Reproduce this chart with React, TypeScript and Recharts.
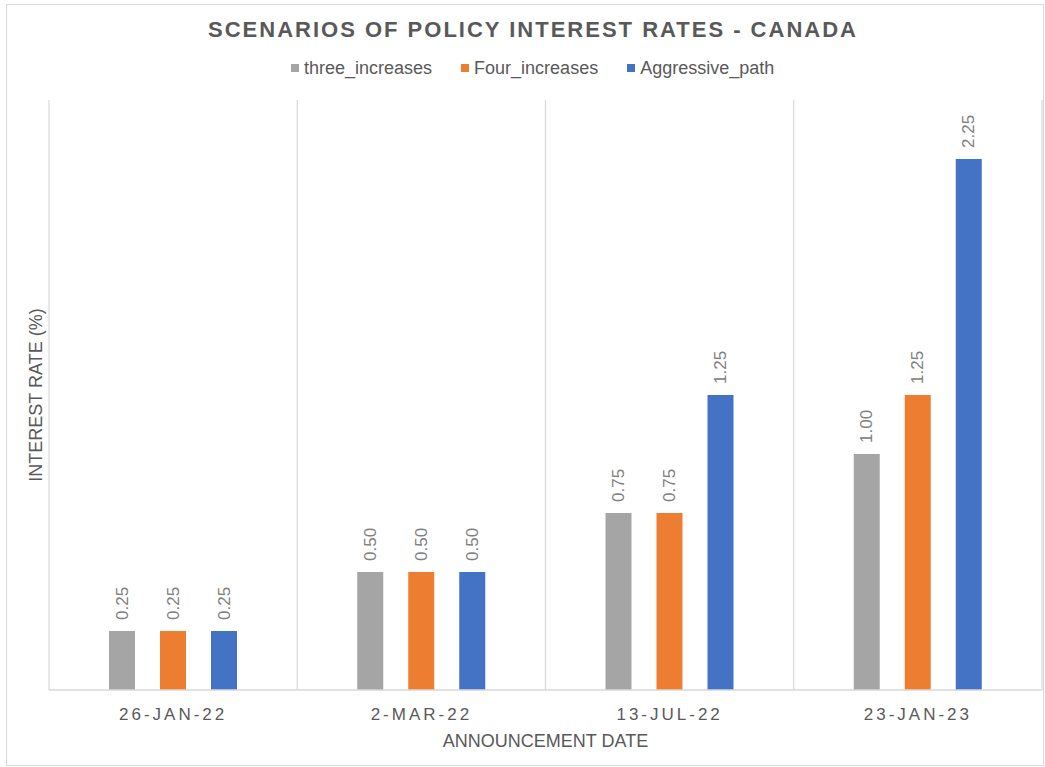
import React from 'react';
import { BarChart, Bar, XAxis, YAxis, CartesianGrid, LabelList } from 'recharts';

const categories = ['26-JAN-22', '2-MAR-22', '13-JUL-22', '23-JAN-23'];
const threeIncreases = [0.25, 0.5, 0.75, 1.0];
const fourIncreases = [0.25, 0.5, 0.75, 1.25];
const aggressivePath = [0.25, 0.5, 1.25, 2.25];

const seriesNames = ['three_increases', 'Four_increases', 'Aggressive_path'];
const seriesColors = ['#a5a5a5', '#ed7d31', '#4472c4'];
const seriesKeys = ['three', 'four', 'aggr'];

const data = categories.map((c, i) => ({
  date: c,
  three: threeIncreases[i],
  four: fourIncreases[i],
  aggr: aggressivePath[i],
}));

const FONT = '"Liberation Sans", Arial, sans-serif';
const TEXT = '#595959';

const renderValueLabel = (props: any) => {
  const { x, y, width, value } = props;
  const cx = Number(x) + Number(width) / 2;
  const ty = Number(y) - 11;
  return (
    <text
      x={cx}
      y={ty}
      transform={`rotate(-90, ${cx}, ${ty})`}
      textAnchor="start"
      dominantBaseline="central"
      fontSize={17}
      fill="#808080"
      fontFamily={FONT}
    >
      {Number(value).toFixed(2)}
    </text>
  );
};

export default function App() {
  return (
    <div
      style={{
        position: 'absolute',
        left: 0,
        top: 0,
        width: 1045,
        height: 767,
        background: '#ffffff',
        fontFamily: FONT,
        overflow: 'hidden',
      }}
    >
      <div
        style={{
          position: 'absolute',
          left: 6,
          top: 4,
          width: 1038,
          height: 762,
          border: '1px solid #d9d9d9',
          boxSizing: 'border-box',
        }}
      />
      <div
        style={{
          position: 'absolute',
          left: 0,
          top: 18,
          width: 1066,
          textAlign: 'center',
          fontSize: 22,
          lineHeight: '24px',
          fontWeight: 'bold',
          letterSpacing: 2,
          color: TEXT,
        }}
      >
        SCENARIOS OF POLICY INTEREST RATES - CANADA
      </div>
      <div
        style={{
          position: 'absolute',
          left: 291,
          top: 58,
          height: 20,
          display: 'flex',
          alignItems: 'center',
          fontSize: 18,
          color: TEXT,
          whiteSpace: 'nowrap',
        }}
      >
        {seriesNames.map((n, i) => (
          <div key={n} style={{ display: 'flex', alignItems: 'center', marginRight: 29 }}>
            <span
              style={{
                display: 'inline-block',
                width: 8,
                height: 8,
                background: seriesColors[i],
                marginRight: 5,
              }}
            />
            <span>{n}</span>
          </div>
        ))}
      </div>
      <div style={{ position: 'absolute', left: 0, top: 0 }}>
        <BarChart
          width={1045}
          height={767}
          data={data}
          margin={{ top: 100, right: 3, bottom: 47, left: 0 }}
          barGap={25}
          barSize={26}
        >
          <CartesianGrid
            horizontal={false}
            stroke="#d9d9d9"
            strokeWidth={1.2}
            verticalCoordinatesGenerator={(p: any) => {
              const o = p.offset;
              return [0, 1, 2, 3, 4].map((i) => o.left + (i * o.width) / 4);
            }}
          />
          <XAxis
            dataKey="date"
            axisLine={{ stroke: '#d9d9d9', strokeWidth: 1.5 }}
            tickLine={false}
            tickSize={0}
            tickMargin={18}
            height={30}
            tick={{ fill: TEXT, fontSize: 17, letterSpacing: 3, fontFamily: FONT }}
            interval={0}
            label={{
              content: (p: any) => {
                const vb = p.viewBox;
                return (
                  <text
                    x={vb.x + vb.width / 2}
                    y={747}
                    textAnchor="middle"
                    fontSize={18}
                    fill={TEXT}
                    fontFamily={FONT}
                  >
                    ANNOUNCEMENT DATE
                  </text>
                );
              },
            }}
          />
          <YAxis
            width={49}
            domain={[0, 2.5]}
            ticks={[0, 2.5]}
            tick={false}
            axisLine={false}
            tickLine={false}
            label={{
              content: (p: any) => {
                const vb = p.viewBox;
                const cx = 36;
                const cy = vb.y + vb.height / 2;
                return (
                  <text
                    x={cx}
                    y={cy}
                    transform={`rotate(-90, ${cx}, ${cy})`}
                    textAnchor="middle"
                    dominantBaseline="central"
                    fontSize={18}
                    fill={TEXT}
                    fontFamily={FONT}
                  >
                    INTEREST RATE (%)
                  </text>
                );
              },
            }}
          />
          {seriesKeys.map((k, i) => (
            <Bar key={k} dataKey={k} name={seriesNames[i]} fill={seriesColors[i]} isAnimationActive={false}>
              <LabelList dataKey={k} content={renderValueLabel} />
            </Bar>
          ))}
        </BarChart>
      </div>
    </div>
  );
}
